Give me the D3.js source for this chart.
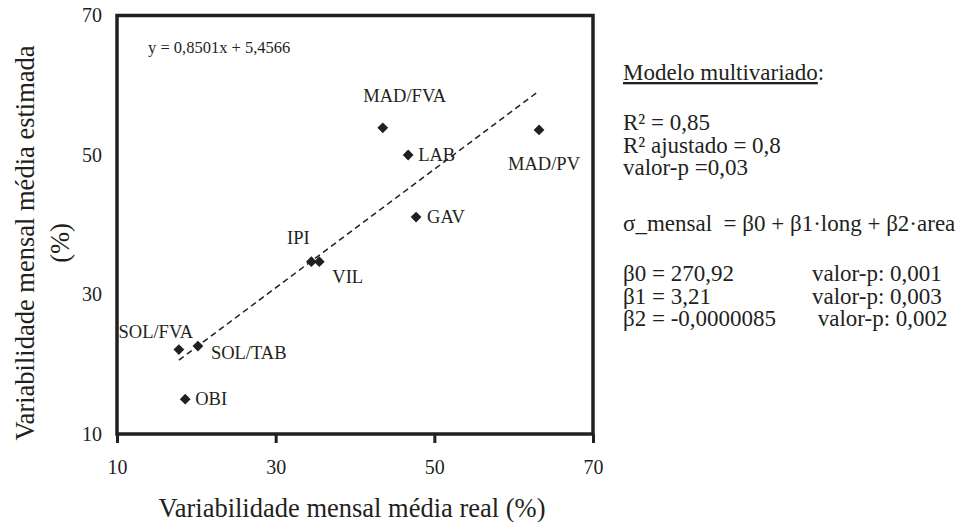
<!DOCTYPE html>
<html>
<head>
<meta charset="utf-8">
<script src="https://cdn.jsdelivr.net/npm/d3@7"></script>
<style>
  body { margin: 0; background: #fff; }
  svg text { font-family: "Liberation Serif", "Times New Roman", serif; fill: #231f20; }
</style>
</head>
<body>
<div id="scatter"></div>
<script>
// data
var names = ["SOL/FVA", "SOL/TAB", "OBI", "IPI", "VIL", "GAV", "LAB", "MAD/FVA", "MAD/PV"];
var realVar = [17.8, 20.2, 18.6, 34.5, 35.5, 47.7, 46.7, 43.5, 63.2];
var estVar = [22.1, 22.6, 15.0, 34.7, 34.7, 41.1, 50.0, 53.9, 53.6];
var tickValues = [10, 30, 50, 70];
var trendSlope = 0.8501;
var trendIntercept = 5.4566;
var modelLines = ["R² = 0,85", "R² ajustado = 0,8", "valor-p =0,03"];
var equationLine = "σ_mensal  = β0 + β1·long + β2·area";
var betaLines = ["β0 = 270,92", "β1 = 3,21", "β2 = -0,0000085"];
var betaPValues = ["valor-p: 0,001", "valor-p: 0,003", " valor-p: 0,002"];

var svgWidth = 962;
var svgHeight = 522;
var margin = { top: 15.5, right: 369, bottom: 88, left: 117 };
var width = svgWidth - margin.left - margin.right;
var height = svgHeight - margin.top - margin.bottom;

var svg = d3.select("#scatter")
    .append("svg")
    .attr("width", svgWidth)
    .attr("height", svgHeight);

var chartGroup = svg.append("g")
    .attr("transform", `translate(${margin.left},${margin.top})`);

var xScale = d3.scaleLinear().domain([10, 70]).range([0, width]);
var yScale = d3.scaleLinear().domain([10, 70]).range([height, 0]);

var points = names.map((n, i) => ({ name: n, x: realVar[i], y: estVar[i] }));

// x axis, ticks outward
var bottomAxis = d3.axisBottom(xScale).tickValues(tickValues).tickSize(9).tickPadding(17);
var xAxis = chartGroup.append("g")
    .attr("transform", `translate(0,${height})`)
    .call(bottomAxis);
xAxis.select(".domain").remove();
xAxis.selectAll("line").attr("stroke", "#231f20").attr("stroke-width", 3);
xAxis.selectAll("text").style("font-size", "20px");

var leftAxis = d3.axisLeft(yScale).tickValues(tickValues).tickSize(0).tickPadding(15);
var yAxis = chartGroup.append("g").call(leftAxis);
yAxis.select(".domain").remove();
yAxis.selectAll("text").style("font-size", "20px");

// frame
chartGroup.append("rect")
    .attr("x", 0).attr("y", 0)
    .attr("width", width).attr("height", height)
    .attr("fill", "none")
    .attr("stroke", "#231f20")
    .attr("stroke-width", 3.5);

// trend line over the data range
var xMin = d3.min(realVar), xMax = d3.max(realVar);
chartGroup.append("line")
    .attr("x1", xScale(xMin)).attr("y1", yScale(trendSlope * xMin + trendIntercept))
    .attr("x2", xScale(xMax)).attr("y2", yScale(trendSlope * xMax + trendIntercept))
    .attr("stroke", "#231f20")
    .attr("stroke-width", 1.5)
    .attr("stroke-dasharray", "6,4");

chartGroup.append("text")
    .attr("x", 31).attr("y", 37.5)
    .style("font-size", "16.5px")
    .text("y = " + String(trendSlope).replace(".", ",") + "x + " + String(trendIntercept).replace(".", ","));

// diamonds
chartGroup.selectAll(".pt")
    .data(points)
    .enter()
    .append("path")
    .attr("class", "pt")
    .attr("d", d3.symbol(d3.symbolSquare, 58))
    .attr("transform", d => `translate(${xScale(d.x)},${yScale(d.y)}) rotate(45)`)
    .attr("fill", "#231f20");

// label placement (offsets from the point)
var labelPos = {
    "SOL/FVA": [-23, -12, "middle"],
    "SOL/TAB": [13, 13, "start"],
    "OBI": [10, 6, "start"],
    "IPI": [-13, -18, "middle"],
    "VIL": [13, 21, "start"],
    "GAV": [11, 6, "start"],
    "LAB": [10, 6, "start"],
    "MAD/FVA": [22, -26, "middle"],
    "MAD/PV": [5, 40, "middle"]
};
chartGroup.selectAll(".lbl")
    .data(points)
    .enter()
    .append("text")
    .attr("class", "lbl")
    .attr("x", d => xScale(d.x) + labelPos[d.name][0])
    .attr("y", d => yScale(d.y) + labelPos[d.name][1])
    .attr("text-anchor", d => labelPos[d.name][2])
    .style("font-size", "18.5px")
    .text(d => d.name);

// axis titles
svg.append("text")
    .attr("x", 352).attr("y", 517)
    .attr("text-anchor", "middle")
    .style("font-size", "26.5px")
    .text("Variabilidade mensal média real (%)");

var yTitle = svg.append("text")
    .attr("transform", "translate(0,243) rotate(-90)")
    .attr("text-anchor", "middle")
    .style("font-size", "26.5px");
yTitle.append("tspan").attr("x", 0).attr("y", 34).text("Variabilidade mensal média estimada");
yTitle.append("tspan").attr("x", 0).attr("y", 69).text("(%)");

// model text on the right
var panel = svg.append("g").attr("transform", "translate(623,0)");
var head = panel.append("text").attr("y", 80).style("font-size", "23px");
head.append("tspan").attr("text-decoration", "underline").text("Modelo multivariado");
head.append("tspan").text(":");

panel.selectAll(".ml")
    .data(modelLines)
    .enter()
    .append("text")
    .attr("y", (d, i) => 130 + i * 22.5)
    .style("font-size", "23px")
    .text(d => d);

panel.append("text").attr("y", 231).style("font-size", "23px")
    .style("white-space", "pre")
    .text(equationLine);

panel.selectAll(".bl")
    .data(betaLines)
    .enter()
    .append("text")
    .attr("y", (d, i) => 281 + i * 22.5)
    .style("font-size", "23px")
    .text(d => d);

panel.selectAll(".bp")
    .data(betaPValues)
    .enter()
    .append("text")
    .attr("x", 189)
    .attr("y", (d, i) => 281 + i * 22.5)
    .style("font-size", "23px")
    .style("white-space", "pre")
    .text(d => d);
</script>
</body>
</html>
